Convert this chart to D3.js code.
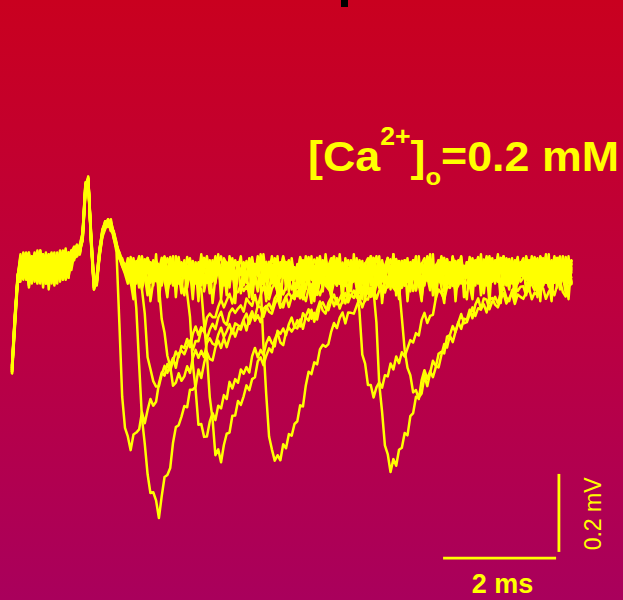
<!DOCTYPE html>
<html>
<head>
<meta charset="utf-8">
<script src="https://cdn.jsdelivr.net/npm/d3@7"></script>
<style>
  html, body { margin: 0; padding: 0; background: #be0040; }
  svg { display: block; }
</style>
</head>
<body>
<svg id="chart" width="623" height="600"></svg>
<script>
// Field potential sweeps in µV, one sample every 0.05 ms from 0 to 9.9 ms.
// Each sweep: stimulus artifact, presynaptic volley, then (mostly) one
// negative-going response at its own latency.
const sweepA = [
  -250, -120, -20, 10, 30, -15, 25, -40, 15, 40, 0, -30, 20, -10, 35, -45, 5, 25, -20, 20, 40, -5, 35, 50, 40,
  90, 215, 230, 70, -50, -20, 50, 95, 120, 110, 125, 80, 40, -140, -330, -410,
  -432, -467, -427, -422, -414, -370, -398, -364, -336, -353, -343, -296, -268, -276, -246, -263, -238, -214, -229, -200,
  -205, -182, -203, -169, -150, -172, -152, -164, -127, -117, -126, -126, -99, -81, -101, -83, -66, -91, -62, -62,
  -42, -59, -47, -63, -30, -18, -44, -25, -43, -18, -4, -23, -39, -6, -13, 1, -23, -4, 12, -17,
  -25, 0, 18, -32, -5, -18, 22, 8, -38, -10, 5, -28, 15, 30, -20, -40, 2, 10, -15, -4,
  -5, 20, -28, -15, 12, -45, 0, 16, -22, 8, -34, -6, 26, -18, 4, -30, 18, -12, -40, 6,
  -2, -28, 18, -10, -40, 10, -20, 25, 5, -35, -15, 30, 0, -45, 15, -25, -5, 20, -30, 2,
  -22, 28, 0, -30, 12, -10, 5, -45, -15, 20, 2, -35, -2, -25, 25, 10, -40, -5, -20, 15,
  -18, 12, -38, 5, 28, -22, -5, -42, 8, 16, -16, -32, 2, 22, -25, -7, 14, -36
];
const sweepB = [
  -270, -150, -35, -5, 20, 35, -20, 10, -35, 25, 5, 30, -25, 15, -10, 40, -30, 0, 30, -15, 10, 45, 25, 30, 55,
  75, 200, 220, 85, -35, -40, 35, 85, 105, 125, 95, 90, 55, 30, 20, -5,
  -9, -4, -23, -103, -247, -385, -451, -529, -577, -575, -596, -641, -585, -536, -531, -513, -448, -408, -403, -381,
  -354, -357, -312, -312, -304, -260, -282, -244, -216, -233, -237, -204, -186, -205, -180, -203, -178, -156, -176, -154,
  -158, -135, -160, -129, -111, -135, -121, -139, -105, -97, -112, -117, -93, -77, -102, -88, -73, -100, -74, -79,
  -60, -78, -67, -85, -52, -42, -69, -52, -70, -45, -32, -51, -67, -35, -42, -27, -50, -30, -12, -39,
  -34, -19, -54, -3, -23, -40, 8, -11, -44, -27, 6, -1, -50, -12, -28, 23, 1, -41, 10, -19,
  -4, -15, 10, 2, -40, -20, 30, 15, -28, 5, -10, -38, 8, 22, -18, -5, -32, 18, 0, -25,
  15, -20, -5, -40, 10, 25, -25, -2, -35, 2, 20, -15, -45, 5, -10, 12, -30, 0, 28, -22,
  -5, 20, -28, -15, 12, -45, 0, 16, -22, 8, -34, -6, 26, -18, 4, -30, 18, -12
];
const sweepC = [
  -255, -130, -25, 20, -10, 25, -30, 5, 35, -20, 15, -5, 40, -35, 10, 25, -15, 35, -25, 5, 30, 15, 45, 35, 50,
  85, 210, 215, 65, -45, -25, 45, 100, 115, 105, 110, 75, 50, 40, 10, 0,
  10, -30, 25, -35, -20, -55, -117, -229, -259, -290, -304, -303, -273, -251, -269, -248, -231, -256, -219, -212,
  -221, -202, -186, -210, -187, -188, -158, -161, -182, -158, -143, -157, -127, -112, -138, -146, -115, -104, -115, -104,
  -96, -112, -78, -89, -97, -69, -100, -70, -48, -71, -80, -53, -39, -62, -41, -68, -48, -30, -55, -37,
  -52, 0, -26, -54, -10, -30, -13, -61, -30, 6, -10, -46, -12, -33, 18, 4, -45, -9, -23, 13,
  2, -30, 20, -5, -25, 15, -45, 0, 30, -15, -35, 5, 25, -20, 10, -40, -10, 18, -28, -2,
  -14, 0, -36, 14, -7, -25, 22, 2, -32, -16, 16, 8, -42, -5, -22, 28, 5, -38, 12, -18,
  6, -40, -12, 18, -30, 4, -18, 26, -6, -34, 8, -22, 16, 0, -45, 12, -15, -28, 20, -5,
  -25, 0, 18, -32, -5, -18, 22, 8, -38, -10, 5, -28, 15, 30, -20, -40, 2, 10
];
const sweepD = [
  -265, -145, -30, 5, 25, -25, 15, 30, -10, -40, 20, 35, 0, 25, -20, 10, -30, 40, 15, -10, 25, 30, 20, 55, 45,
  70, 195, 225, 90, -30, -35, 30, 80, 100, 115, 105, 95, 65, 25, 15, 10,
  -2, -28, 18, -10, -40, 10, -20, 25, 5, -35, -15, -48, -131, -166, -225, -252, -302, -294, -270, -289,
  -278, -252, -269, -231, -210, -230, -212, -229, -192, -180, -194, -198, -171, -153, -177, -162, -144, -168, -142, -147,
  -151, -132, -117, -143, -123, -125, -97, -101, -125, -103, -91, -107, -78, -66, -92, -101, -73, -64, -75, -65,
  -72, -48, -80, -47, -27, -60, -45, -69, -32, -25, -45, -54, -29, -13, -43, -29, -12, -46, -20, -29,
  6, -40, -12, 18, -30, 4, -18, 26, -6, -34, 8, -22, 16, 0, -45, 12, -15, -28, 20, -5,
  15, -20, -5, -40, 10, 25, -25, -2, -35, 2, 20, -15, -45, 5, -10, 12, -30, 0, 28, -22,
  2, -30, 20, -5, -25, 15, -45, 0, 30, -15, -35, 5, 25, -20, 10, -40, -10, 18, -28, -2,
  -4, -15, 10, 2, -40, -20, 30, 15, -28, 5, -10, -38, 8, 22, -18, -5, -32, 18
];
const sweepE = [
  -260, -135, -15, -15, 15, 30, -5, -30, 25, 10, 45, -20, 5, 30, -40, 20, 35, -10, 15, -25, 40, 25, 50, 35, 45,
  80, 205, 230, 75, -40, -30, 40, 95, 110, 120, 100, 90, 60, 35, 5, -10,
  -22, 28, 0, -30, 12, -10, 5, -45, -15, 20, 2, -35, -2, -25, 25, 10, -40, -5, -20, 15,
  -5, -65, -125, -245, -312, -402, -400, -433, -432, -394, -372, -390, -353, -360, -326, -336, -292, -309, -285, -294,
  -260, -271, -254, -268, -226, -205, -229, -210, -223, -193, -177, -193, -201, -161, -169, -155, -172, -144, -127, -153,
  -134, -150, -116, -127, -135, -107, -138, -108, -86, -109, -117, -89, -75, -98, -77, -104, -83, -64, -88, -69,
  -77, -56, -83, -55, -40, -66, -54, -74, -42, -35, -52, -59, -37, -23, -49, -36, -22, -51, -28, -35,
  -40, -9, -58, -14, 10, -39, -21, -57, -6, 3, -28, -43, -8, 13, -33, -15, 7, -42, -5, -19,
  -18, 12, -38, 5, 28, -22, -5, -42, 8, 16, -16, -32, 2, 22, -25, -7, 14, -36, 0, -14,
  -14, 0, -36, 14, -7, -25, 22, 2, -32, -16, 16, 8, -42, -5, -22, 28, 5, -38
];
const sweepF = [
  -250, -125, -25, 25, 0, -20, 35, 15, -25, 30, -5, 20, -40, 10, 40, -15, 25, 5, -30, 35, 10, 40, 30, 45, 60,
  90, 220, 220, 70, -45, -20, 50, 90, 115, 115, 115, 80, 55, 30, 25, 0,
  -5, 20, -28, -15, 12, -45, 0, 16, -22, 8, -34, -6, 26, -18, 4, -30, 18, -12, -40, 6,
  2, -10, 5, -28, -10, -42, -55, -145, -222, -331, -388, -480, -465, -498, -454, -425, -422, -379, -378, -341,
  -351, -329, -301, -313, -285, -280, -239, -229, -249, -225, -206, -216, -183, -166, -191, -198, -165, -153, -163, -151,
  -155, -132, -156, -124, -106, -130, -115, -132, -97, -88, -103, -108, -84, -68, -93, -79, -64, -91, -66, -71,
  -58, -76, -44, -57, -67, -41, -74, -46, -26, -51, -61, -35, -22, -46, -26, -55, -36, -19, -45, -28,
  -45, -19, 0, -49, -21, -33, 8, -5, -50, -21, -5, -37, 7, 23, -26, -46, -3, 5, -19, -8,
  -25, 0, 18, -32, -5, -18, 22, 8, -38, -10, 5, -28, 15, 30, -20, -40, 2, 10, -15, -4,
  -22, 28, 0, -30, 12, -10, 5, -45, -15, 20, 2, -35, -2, -25, 25, 10, -40, -5
];
const sweepG = [
  -265, -140, -20, 0, 35, 10, -30, 25, 5, -20, 40, -10, 15, -35, 30, 5, -25, 20, 45, -15, 25, 35, 40, 30, 50,
  75, 190, 215, 80, -35, -45, 30, 85, 105, 120, 95, 90, 60, 40, 20, 5,
  15, -20, -5, -40, 10, 25, -25, -2, -35, 2, 20, -15, -45, 5, -10, 12, -30, 0, 28, -22,
  6, -40, -12, 18, -30, 4, -18, 26, -6, -34, 8, -22, 16, 0, -45, 12, -15, -28, 20, -5,
  -10, 15, -20, 5, -25, 10, -15, -40, -198, -325, -432, -465, -494, -480, -493, -452, -462, -426, -430, -400,
  -393, -352, -355, -301, -266, -272, -242, -247, -209, -197, -202, -195, -163, -141, -154, -128, -114, -142, -114, -115,
  -117, -97, -78, -101, -79, -81, -51, -54, -79, -58, -46, -63, -35, -24, -51, -60, -33, -26, -38, -28,
  -14, -59, -30, 1, -46, -11, -32, 13, -18, -45, -2, -31, 8, -7, -51, 6, -20, -33, 16, -9,
  -5, 20, -28, -15, 12, -45, 0, 16, -22, 8, -34, -6, 26, -18, 4, -30, 18, -12, -40, 6,
  2, -30, 20, -5, -25, 15, -45, 0, 30, -15, -35, 5, 25, -20, 10, -40, -10, 18
];
const sweepH = [
  -255, -130, -30, 15, -20, 40, 10, -15, 30, -35, 0, 25, -10, 35, 15, -30, 20, -5, 40, 10, -20, 30, 50, 40, 35,
  85, 210, 225, 60, -55, -25, 45, 90, 110, 115, 100, 85, 55, 35, 15, 10,
  -14, 0, -36, 14, -7, -25, 22, 2, -32, -16, 16, 8, -42, -5, -22, 28, 5, -38, 12, -18,
  -25, 0, 18, -32, -5, -18, 22, 8, -38, -10, 5, -28, 15, 30, -20, -40, 2, 10, -15, -4,
  -4, -15, 10, 2, -40, -20, 30, 15, -28, 5, -10, -38, 8, 22, -18, -5, -32, 18, 0, -25,
  -18, 12, -38, 5, 28, -22, -5, -42, 8, 16, -16, -32, 2, 22, -25, -7, 14, -36, 0, -14,
  -15, -50, -112, -222, -245, -300, -300, -332, -306, -293, -307, -275, -278, -245, -260, -227, -244, -216, -227, -206,
  -185, -191, -167, -173, -133, -115, -141, -123, -120, -78, -55, -65, -81, -49, -50, -29, -58, -44, -18, -37,
  -39, -23, -57, -5, -24, -40, 8, -11, -44, -27, 6, -1, -50, -12, -28, 23, 0, -42, 8, -21,
  -2, -28, 18, -10, -40, 10, -20, 25, 5, -35, -15, 30, 0, -45, 15, -25, -5, 20
];
const sweepI = [
  -270, -155, -40, -10, 25, 5, 30, -25, 10, 35, -15, 15, -40, 20, 0, 30, -20, 40, 5, -30, 20, 45, 35, 55, 40,
  80, 200, 230, 85, -40, -35, 40, 85, 110, 125, 105, 85, 60, 30, 10, 0,
  6, -40, -12, 18, -30, 4, -18, 26, -6, -34, 8, -22, 16, 0, -45, 12, -15, -28, 20, -5,
  2, -30, 20, -5, -25, 15, -45, 0, 30, -15, -35, 5, 25, -20, 10, -40, -10, 18, -28, -2,
  -2, -28, 18, -10, -40, 10, -20, 25, 5, -35, -15, 30, 0, -45, 15, -25, -5, 20, -30, 2,
  -22, 28, 0, -30, 12, -10, 5, -45, -15, 20, 2, -35, -2, -25, 25, 10, -40, -5, -20, 15,
  -10, 15, -20, 5, -15, 10, -25, -60, -140, -298, -368, -455, -477, -523, -490, -507, -466, -461, -423, -429,
  -380, -372, -330, -332, -322, -277, -303, -269, -238, -251, -255, -223, -195, -204, -173, -190, -163, -139, -156, -130,
  -133, -107, -129, -94, -78, -105, -93, -114, -82, -77, -94, -101, -79, -65, -91, -78, -64, -92, -68, -74,
  -79, -63, -51, -80, -63, -70, -45, -52, -79, -61, -51, -70, -43, -33, -62, -73, -47, -41
];
const sweepJ = [
  -260, -135, -25, 30, 10, -30, 20, 0, 40, -10, -35, 25, 15, -20, 35, 0, 25, -15, 30, 15, -25, 35, 45, 40, 50,
  70, 205, 210, 75, -50, -30, 35, 90, 105, 110, 120, 90, 50, 25, 15, -5,
  -25, 0, 18, -32, -5, -18, 22, 8, -38, -10, 5, -28, 15, 30, -20, -40, 2, 10, -15, -4,
  -2, -28, 18, -10, -40, 10, -20, 25, 5, -35, -15, 30, 0, -45, 15, -25, -5, 20, -30, 2,
  -18, 12, -38, 5, 28, -22, -5, -42, 8, 16, -16, -32, 2, 22, -25, -7, 14, -36, 0, -14,
  6, -40, -12, 18, -30, 4, -18, 26, -6, -34, 8, -22, 16, 0, -45, 12, -15, -28, 20, -5,
  15, -20, -5, -40, 10, 25, -25, -2, -35, 2, 20, -15, -45, 5, -10, 12, -46, -127, -210, -256,
  -275, -319, -313, -336, -288, -262, -284, -265, -280, -255, -220, -215, -219, -176, -172, -149, -164, -140, -118, -142,
  -139, -119, -101, -123, -103, -107, -78, -81, -106, -86, -74, -91, -62, -50, -76, -85, -57, -48, -59, -48,
  -47, -70, -32, -42, -57, -37, -64, -34, -18, -48, -53, -23, -16, -46, -23, -48, -35, -24
];
const sweepK = [
  -265, -145, -30, 5, -25, 25, 40, -15, 0, 20, -30, 35, 10, -5, 25, -35, 15, 30, -10, 25, 5, 40, 30, 50, 45,
  85, 200, 225, 70, -40, -40, 40, 85, 110, 115, 110, 90, 60, 30, 20, 0,
  -18, 12, -38, 5, 28, -22, -5, -42, 8, 16, -16, -32, 2, 22, -25, -7, 14, -36, 0, -14,
  -22, 28, 0, -30, 12, -10, 5, -45, -15, 20, 2, -35, -2, -25, 25, 10, -40, -5, -20, 15,
  -14, 0, -36, 14, -7, -25, 22, 2, -32, -16, 16, 8, -42, -5, -22, 28, 5, -38, 12, -18,
  2, -30, 20, -5, -25, 15, -45, 0, 30, -15, -35, 5, 25, -20, 10, -40, -10, 18, -28, -2,
  -4, -15, 10, 2, -40, -20, 30, 15, -28, 5, -10, -38, 8, 22, -18, -5, -32, 18, 0, -25,
  -5, 20, -28, -15, 12, -45, 0, 16, -22, 8, -34, -6, 26, -18, 4, -30, 18, -12, -40, 6,
  -2, -28, 18, -10, -40, 10, -20, 25, 5, -35, -15, 30, 0, -45, 15, -25, -5, 20, -30, 2,
  15, -20, -5, -40, 10, 25, -25, -2, -35, 2, 20, -15, -45, 5, -10, 12, -30, 0
];
const sweepL = [
  -260, -140, -25, 35, -30, 10, -50, 25, -15, 45, -40, 0, 30, -55, 20, -20, 40, -35, 15, 50, -25, 30, 45, 60, 35,
  80, 205, 235, 75, -45, -30, 45, 90, 115, 120, 105, 85, 50, 25, 5, -15,
  -40, 15, -70, -10, 30, -55, -20, 25, -85, -35, 10, -60, 20, -30, -75, 5, -45, 30, -15, -65,
  20, -50, -5, -80, 15, -30, 35, -60, -20, 10, -90, -25, 25, -45, 0, -70, 30, -10, -55, 15,
  -65, 10, -35, 25, -80, -15, 20, -50, 35, -25, -70, 5, -40, 30, -85, -10, 15, -60, 25, -30,
  10, -75, -20, 30, -45, -90, 0, -35, 20, -60, 25, -15, -70, 10, -40, 35, -55, -5, -80, 20,
  -30, 25, -65, 5, -85, -20, 30, -50, -10, 15, -75, -35, 20, -55, 35, -25, -80, 0, -45, 25,
  -60, -5, 30, -40, -85, 10, -25, 35, -70, -15, 20, -50, -90, 5, -35, 25, -60, -10, 30, -75,
  15, -45, -80, 20, -30, 35, -65, -5, -90, 25, -40, 10, -70, 30, -20, -55, 15, -85, 0, -35,
  -25, 30, -60, -10, 25, -75, 5, -45, 35, -30, -85, 15, -50, 20, -20, -65, 30, -40
];
const sweepM = [
  -255, -125, -35, -35, 40, 15, -45, 30, 0, -25, 45, -50, 20, 35, -15, 10, -40, 45, -30, 25, -5, 40, 55, 35, 55,
  90, 215, 225, 65, -55, -35, 35, 95, 120, 110, 115, 90, 55, 35, 10, -10,
  25, -35, -80, 5, -50, 30, -20, -70, 15, -45, 35, -85, -5, 20, -60, -25, 30, -75, 10, -40,
  -70, -15, 25, -55, 5, -85, 30, -35, -5, -65, 20, -40, 35, -80, -10, 15, -50, 25, -90, 0,
  30, -45, -10, -75, 20, -25, -60, 35, -15, -85, 10, -40, 25, -70, -5, 30, -55, -20, 15, -80,
  -20, 25, -65, 0, -40, 30, -85, -10, 20, -55, 35, -30, -75, 15, -45, 5, -90, 25, -15, -60,
  35, -50, -15, -80, 10, -35, 25, -65, -5, 30, -90, -20, 15, -45, 35, -70, 0, -30, 20, -85,
  -10, 20, -55, 30, -75, -25, 10, -45, 35, -80, -15, 25, -60, 5, -35, 30, -85, -5, 15, -50,
  -80, 0, 25, -45, 15, -70, -20, 30, -60, 5, -35, 35, -90, -10, 20, -50, 25, -75, -25, 10,
  25, -65, -15, 30, -50, 5, -85, 20, -35, 35, -70, -5, 15, -55, 30, -25, -80, 10
];
const sweeps = [sweepA, sweepB, sweepC, sweepD, sweepE, sweepF, sweepG, sweepH, sweepI, sweepJ, sweepK, sweepL, sweepM];

// Sampling interval (ms)
const sampleStep = 0.05;

// Calibration bars: 2 ms and 0.2 mV (200 µV)
const timeBar = { start: 7.63, length: 2, level: -744, label: "2 ms" };
const voltBar = { time: 9.68, start: -528, length: 200, label: "0.2 mV" };
const conditionLabel = { main: "[Ca", sup: "2+", close: "]", sub: "o", rest: "=0.2 mM" };

const svg = d3.select("#chart");
const W = 623, H = 600;

const x = d3.scaleLinear().domain([0, 10]).range([12, 577]);
const y = d3.scaleLinear().domain([-700, 300]).range([541, 151]);

// background gradient
const defs = svg.append("defs");
const grad = defs.append("linearGradient")
  .attr("id", "bg").attr("x1", 0).attr("y1", 0).attr("x2", 0).attr("y2", 1);
grad.append("stop").attr("offset", "0%").attr("stop-color", "#c9001f");
grad.append("stop").attr("offset", "50%").attr("stop-color", "#bd003e");
grad.append("stop").attr("offset", "100%").attr("stop-color", "#a9005c");
svg.append("rect").attr("width", W).attr("height", H).attr("fill", "url(#bg)");

// fragment of a heading glyph clipped by the top edge
svg.append("rect")
  .attr("x", 341).attr("y", 0).attr("width", 7).attr("height", 7)
  .attr("fill", "#000");

// sweeps
const line = d3.line()
  .x((v, i) => x(i * sampleStep))
  .y(v => y(v));

svg.append("g")
  .selectAll("path")
  .data(sweeps)
  .join("path")
  .attr("d", line)
  .attr("fill", "none")
  .attr("stroke", "#ffff00")
  .attr("stroke-width", 2.5)
  .attr("stroke-linejoin", "round")
  .attr("stroke-linecap", "round");

// calibration bars
const bars = svg.append("g").attr("stroke", "#ffff00").attr("stroke-width", 2.8);
bars.append("line")
  .attr("x1", x(timeBar.start)).attr("x2", x(timeBar.start + timeBar.length))
  .attr("y1", y(timeBar.level)).attr("y2", y(timeBar.level));
bars.append("line")
  .attr("x1", x(voltBar.time)).attr("x2", x(voltBar.time))
  .attr("y1", y(voltBar.start)).attr("y2", y(voltBar.start - voltBar.length));

svg.append("text")
  .attr("x", x(timeBar.start + timeBar.length / 2) + 3).attr("y", 593)
  .attr("text-anchor", "middle")
  .attr("font-family", "Liberation Sans, Arial, sans-serif")
  .attr("font-weight", "bold").attr("font-size", 27)
  .attr("fill", "#ffff00").text(timeBar.label);

svg.append("text")
  .attr("transform", `translate(601,${y(voltBar.start - voltBar.length / 2) + 1}) rotate(-90)`)
  .attr("text-anchor", "middle")
  .attr("font-family", "Liberation Sans, Arial, sans-serif")
  .attr("font-size", 23)
  .attr("fill", "#ffff00").text(voltBar.label);

// condition label
const cond = svg.append("text")
  .attr("x", 308).attr("y", 171)
  .attr("font-family", "Liberation Sans, Arial, sans-serif")
  .attr("font-weight", "bold").attr("font-size", 42)
  .attr("textLength", 311).attr("lengthAdjust", "spacingAndGlyphs")
  .attr("fill", "#ffff00");
cond.append("tspan").text(conditionLabel.main);
cond.append("tspan").attr("font-size", 25).attr("dy", -26).text(conditionLabel.sup);
cond.append("tspan").attr("dy", 26).text(conditionLabel.close);
cond.append("tspan").attr("font-size", 24).attr("dy", 14).text(conditionLabel.sub);
cond.append("tspan").attr("dy", -14).text(conditionLabel.rest);
</script>
</body>
</html>
